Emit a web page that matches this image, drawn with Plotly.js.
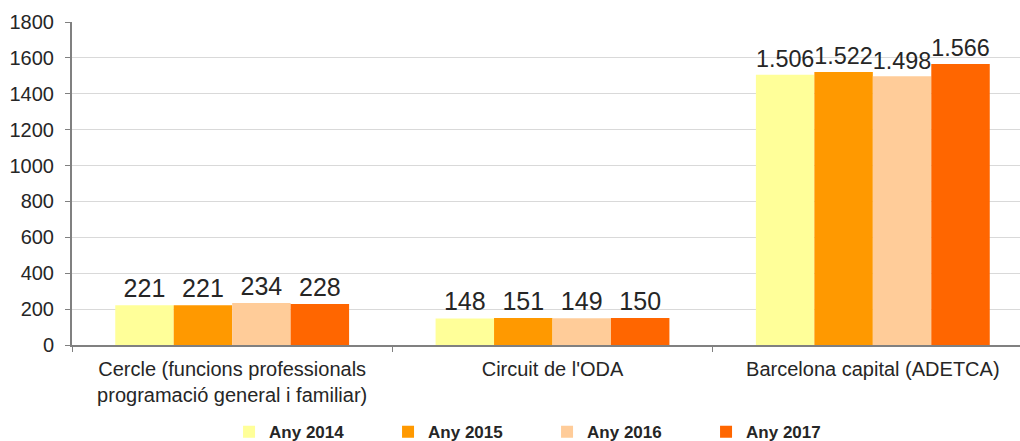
<!DOCTYPE html>
<html><head><meta charset="utf-8">
<script src="https://cdn.plot.ly/plotly-3.0.1.min.js"></script>
<style>html,body{margin:0;padding:0;overflow:hidden;background:#fff}</style>
</head><body>
<div id="chart" style="width:1040px;height:441px"></div>
<script>
const categories = ["Cercle (funcions professionals<br>programació general i familiar)", "Circuit de l'ODA", "Barcelona capital (ADETCA)"];
const seriesNames = ["Any 2014", "Any 2015", "Any 2016", "Any 2017"];
const v2014 = [221, 148, 1506];
const v2015 = [221, 151, 1522];
const v2016 = [234, 149, 1498];
const v2017 = [228, 150, 1566];
const colors = ["#FFFF99", "#FF9900", "#FFCC99", "#FF6600"];
const allValues = [v2014, v2015, v2016, v2017];
const yTicks = [0, 200, 400, 600, 800, 1000, 1200, 1400, 1600, 1800];

const traces = allValues.map((vals, i) => ({
  type: 'bar', x: categories, y: vals, name: seriesNames[i],
  marker: {color: colors[i], line: {width: 0}},
  texttemplate: '%{y:,}', textposition: 'outside', cliponaxis: false,
  textfont: {size: 25, color: '#262626'}
}));

Plotly.newPlot('chart', traces, {
  width: 1040, height: 441,
  margin: {l: 72, r: 7, t: 22, b: 96},
  separators: ',.',
  font: {family: 'Liberation Sans, Arial, sans-serif', color: '#262626', size: 20},
  barmode: 'group', bargap: 0.27, bargroupgap: 0,
  paper_bgcolor: '#fff', plot_bgcolor: '#fff',
  xaxis: {type: 'category', tickson: 'boundaries', ticks: 'outside', ticklen: 5, tickcolor: '#808080',
    showline: true, linecolor: '#808080', linewidth: 2, tickfont: {size: 20}, ticklabelstandoff: 5,
    fixedrange: true, automargin: false},
  yaxis: {range: [0, 1800], tickvals: yTicks, ticks: 'outside', ticklen: 5, tickcolor: '#808080',
    showline: true, linecolor: '#808080', linewidth: 2, gridcolor: '#D9D9D9', gridwidth: 1,
    zeroline: false, tickfont: {size: 20}, ticklabelstandoff: 7, fixedrange: true, automargin: false},
  legend: {orientation: 'h', x: 0.526, xref: 'container', xanchor: 'center', y: 0.02, yref: 'container', yanchor: 'middle',
    font: {size: 17, weight: 'bold', color: '#262626'}, entrywidth: 114, traceorder: 'normal'},
  showlegend: true
}, {displayModeBar: false, staticPlot: true});
</script>
</body></html>
